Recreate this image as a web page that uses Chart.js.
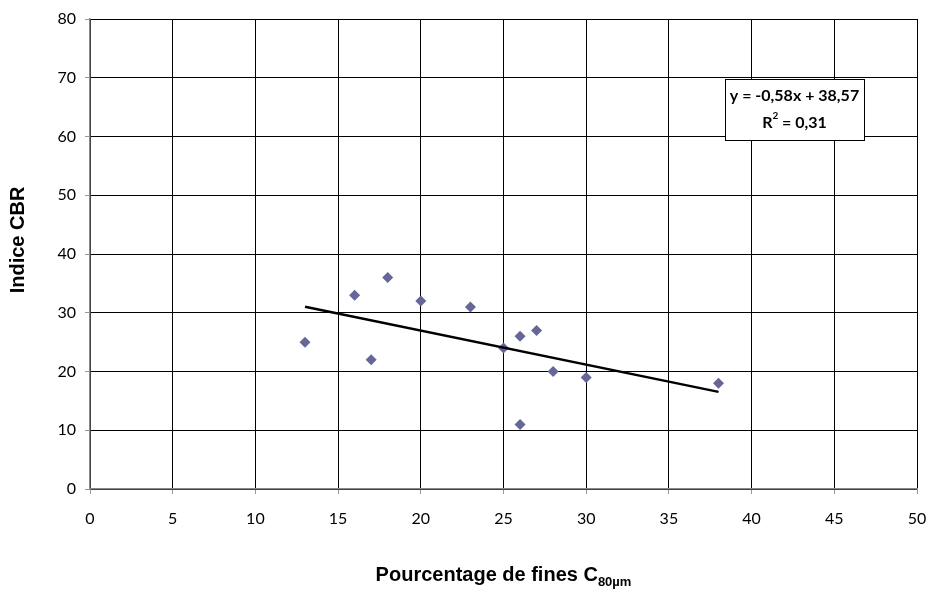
<!DOCTYPE html>
<html>
<head>
<meta charset="utf-8">
<script src="https://cdn.jsdelivr.net/npm/chart.js@4"></script>
<style>
  html, body { margin: 0; padding: 0; background: #fff; }
  #wrap { width: 931px; height: 595px; }
</style>
</head>
<body>
<div id="wrap"><canvas id="cbrChart" width="931" height="595"></canvas></div>
<script>
// Données
const finesPct = [13, 16, 17, 18, 20, 23, 25, 26, 26, 27, 28, 30, 38];
const indiceCBR = [25, 33, 22, 36, 32, 31, 24, 26, 11, 27, 20, 19, 18];

// Droite de tendance (Excel) : y = -0,58x + 38,57
const penteTendance = -0.58;
const origineTendance = 38.57;
const xTendance = [13, 38];
const equationTexte = ['y = -0,58x + 38,57', 'R', '2', ' = 0,31'];

const xTicks = [0, 5, 10, 15, 20, 25, 30, 35, 40, 45, 50];
const yTicks = [0, 10, 20, 30, 40, 50, 60, 70, 80];

const points = finesPct.map((x, i) => ({ x: x, y: indiceCBR[i] }));
const tendance = xTendance.map(x => ({ x: x, y: penteTendance * x + origineTendance }));

const POLICE_TITRE = '"Liberation Sans", Arial, sans-serif';
const POLICE_TEXTE = 'Lato, "Open Sans", sans-serif';

// Titres des axes et boîte de l'équation
const annotations = {
  id: 'annotations',
  afterDraw(chart) {
    const ctx = chart.ctx;
    const area = chart.chartArea;
    ctx.save();
    ctx.fillStyle = '#000';

    // Titre Y (un peu au-dessus du centre, comme dans Excel)
    ctx.save();
    ctx.translate(18, 240);
    ctx.rotate(-Math.PI / 2);
    ctx.font = 'bold 20px ' + POLICE_TITRE;
    ctx.textAlign = 'center';
    ctx.textBaseline = 'middle';
    ctx.fillText('Indice CBR', 0, 0);
    ctx.restore();

    // Titre X : "Pourcentage de fines C" + indice "80µm"
    const main = 'Pourcentage de fines C';
    const sub = '80µm';
    ctx.textBaseline = 'alphabetic';
    ctx.font = 'bold 20px ' + POLICE_TITRE;
    const wMain = ctx.measureText(main).width;
    ctx.font = 'bold 13px ' + POLICE_TITRE;
    const wSub = ctx.measureText(sub).width;
    const cx = (area.left + area.right) / 2;
    const startX = cx - (wMain + wSub) / 2;
    const baseY = 581;
    ctx.font = 'bold 20px ' + POLICE_TITRE;
    ctx.textAlign = 'left';
    ctx.fillText(main, startX, baseY);
    ctx.font = 'bold 13px ' + POLICE_TITRE;
    ctx.fillText(sub, startX + wMain, baseY + 5);

    // Boîte d'équation
    const bx = 725, by = 79, bw = 139, bh = 61;
    ctx.fillStyle = '#fff';
    ctx.fillRect(bx, by, bw, bh);
    ctx.strokeStyle = '#000';
    ctx.lineWidth = 1;
    ctx.strokeRect(bx + 0.5, by + 0.5, bw, bh);

    ctx.fillStyle = '#000';
    ctx.textBaseline = 'middle';
    ctx.font = 'bold 16px ' + POLICE_TEXTE;
    ctx.textAlign = 'center';
    ctx.fillText(equationTexte[0], bx + bw / 2, by + 17);

    // R² = 0,31
    const wR = ctx.measureText(equationTexte[1]).width;
    const wRest = ctx.measureText(equationTexte[3]).width;
    ctx.font = 'bold 10px ' + POLICE_TEXTE;
    const wExp = ctx.measureText(equationTexte[2]).width;
    const total = wR + wExp + wRest;
    let px = bx + bw / 2 - total / 2;
    ctx.textAlign = 'left';
    ctx.font = 'bold 16px ' + POLICE_TEXTE;
    ctx.fillText(equationTexte[1], px, by + 44);
    px += wR;
    ctx.font = 'bold 10px ' + POLICE_TEXTE;
    ctx.fillText(equationTexte[2], px, by + 37);
    px += wExp;
    ctx.font = 'bold 16px ' + POLICE_TEXTE;
    ctx.fillText(equationTexte[3], px, by + 44);

    ctx.restore();
  }
};

new Chart(document.getElementById('cbrChart'), {
  type: 'scatter',
  data: {
    datasets: [
      {
        label: 'Indice CBR',
        data: points,
        pointStyle: 'rectRot',
        pointRadius: 5.5,
        pointHoverRadius: 5.5,
        backgroundColor: '#666699',
        borderColor: '#666699',
        borderWidth: 0,
        order: 1
      },
      {
        type: 'line',
        label: 'Tendance',
        data: tendance,
        borderColor: '#000',
        borderWidth: 2.5,
        pointRadius: 0,
        fill: false,
        order: 0
      }
    ]
  },
  options: {
    responsive: false,
    animation: false,
    layout: { padding: { top: 19, right: 14, left: 0, bottom: 0 } },
    plugins: {
      legend: { display: false },
      tooltip: { enabled: false }
    },
    scales: {
      x: {
        type: 'linear',
        min: 0,
        max: 50,
        afterBuildTicks: s => { s.ticks = xTicks.map(v => ({ value: v })); },
        afterFit: s => { s.height = 106; s.paddingLeft = 0; s.paddingRight = 0; },
        grid: {
          color: '#000',
          lineWidth: 1,
          tickColor: '#999',
          tickLength: 5
        },
        border: { color: '#888', width: 1.5 },
        ticks: {
          color: '#000',
          padding: 15,
          font: { family: POLICE_TEXTE, size: 16 }
        }
      },
      y: {
        type: 'linear',
        min: 0,
        max: 80,
        afterBuildTicks: s => { s.ticks = yTicks.map(v => ({ value: v })); },
        afterFit: s => { s.width = 90; s.paddingTop = 0; s.paddingBottom = 0; },
        grid: {
          color: '#000',
          lineWidth: 1,
          tickColor: '#999',
          tickLength: 5
        },
        border: { color: '#888', width: 1.5 },
        ticks: {
          color: '#000',
          padding: 9,
          font: { family: POLICE_TEXTE, size: 16 }
        }
      }
    }
  },
  plugins: [annotations]
});
</script>
</body>
</html>
